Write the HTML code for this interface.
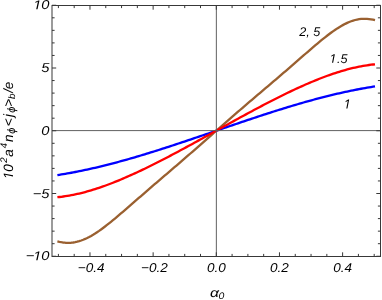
<!DOCTYPE html>
<html><head><meta charset="utf-8"><style>
html,body{margin:0;padding:0;background:#fff;}
svg{display:block}
svg{will-change:transform}
text{text-rendering:geometricPrecision;font-family:"Liberation Sans",sans-serif;font-style:italic;fill:#000}
</style></head><body>
<svg width="382" height="300" viewBox="0 0 382 300">
<rect width="382" height="300" fill="#fff"/>
<g fill="none" stroke-width="2.3" stroke-linejoin="round" stroke-linecap="butt">
<path d="M57.39,241.31 L59.38,241.80 L61.36,242.21 L63.35,242.52 L65.33,242.73 L67.32,242.84 L69.30,242.84 L71.29,242.73 L73.27,242.50 L75.26,242.17 L77.24,241.73 L79.23,241.18 L81.21,240.53 L83.20,239.78 L85.18,238.93 L87.17,238.00 L89.15,236.98 L91.14,235.89 L93.12,234.73 L95.11,233.50 L97.09,232.21 L99.08,230.86 L101.06,229.45 L103.05,228.00 L105.03,226.50 L107.02,224.96 L109.00,223.39 L110.99,221.79 L112.97,220.17 L114.96,218.52 L116.94,216.85 L118.93,215.17 L120.91,213.47 L122.90,211.77 L124.88,210.05 L126.87,208.34 L128.85,206.61 L130.84,204.89 L132.83,203.17 L134.81,201.44 L136.80,199.72 L138.78,197.99 L140.77,196.26 L142.75,194.53 L144.74,192.80 L146.72,191.08 L148.71,189.37 L150.69,187.65 L152.68,185.94 L154.66,184.24 L156.65,182.53 L158.63,180.83 L160.62,179.13 L162.60,177.43 L164.59,175.73 L166.57,174.03 L168.56,172.33 L170.54,170.63 L172.53,168.93 L174.51,167.23 L176.50,165.53 L178.48,163.82 L180.47,162.11 L182.45,160.40 L184.44,158.68 L186.42,156.96 L188.41,155.23 L190.39,153.50 L192.38,151.77 L194.36,150.04 L196.35,148.30 L198.33,146.55 L200.32,144.81 L202.30,143.06 L204.29,141.30 L206.27,139.55 L208.26,137.79 L210.24,136.03 L212.23,134.27 L214.21,132.51 L216.20,130.75 L218.19,129.01 L220.17,127.27 L222.16,125.54 L224.14,123.80 L226.13,122.07 L228.11,120.34 L230.10,118.61 L232.08,116.88 L234.07,115.15 L236.05,113.43 L238.04,111.71 L240.02,110.00 L242.01,108.29 L243.99,106.58 L245.98,104.88 L247.96,103.17 L249.95,101.48 L251.93,99.78 L253.92,98.09 L255.90,96.40 L257.89,94.71 L259.87,93.02 L261.86,91.34 L263.84,89.65 L265.83,87.97 L267.81,86.28 L269.80,84.59 L271.78,82.91 L273.77,81.22 L275.75,79.52 L277.74,77.83 L279.72,76.13 L281.71,74.42 L283.69,72.72 L285.68,71.01 L287.66,69.29 L289.65,67.57 L291.63,65.84 L293.62,64.11 L295.60,62.38 L297.59,60.66 L299.57,58.93 L301.56,57.20 L303.55,55.48 L305.53,53.75 L307.52,52.03 L309.50,50.31 L311.49,48.60 L313.47,46.89 L315.46,45.20 L317.44,43.53 L319.43,41.87 L321.41,40.23 L323.40,38.62 L325.38,37.04 L327.37,35.49 L329.35,33.97 L331.34,32.51 L333.32,31.08 L335.31,29.72 L337.29,28.41 L339.28,27.16 L341.26,25.98 L343.25,24.88 L345.23,23.84 L347.22,22.88 L349.20,22.02 L351.19,21.25 L353.17,20.57 L355.16,20.00 L357.14,19.54 L359.13,19.18 L361.11,18.94 L363.10,18.80 L365.08,18.78 L367.07,18.86 L369.05,19.05 L371.04,19.34 L373.02,19.72 L375.01,20.19" stroke="#9a6030"/>
<path d="M57.39,175.11 L59.38,174.80 L61.36,174.48 L63.35,174.15 L65.33,173.82 L67.32,173.47 L69.30,173.12 L71.29,172.75 L73.27,172.38 L75.26,172.00 L77.24,171.61 L79.23,171.22 L81.21,170.81 L83.20,170.40 L85.18,169.98 L87.17,169.55 L89.15,169.12 L91.14,168.67 L93.12,168.22 L95.11,167.77 L97.09,167.30 L99.08,166.83 L101.06,166.35 L103.05,165.87 L105.03,165.37 L107.02,164.87 L109.00,164.37 L110.99,163.86 L112.97,163.34 L114.96,162.81 L116.94,162.28 L118.93,161.75 L120.91,161.21 L122.90,160.66 L124.88,160.11 L126.87,159.55 L128.85,158.99 L130.84,158.42 L132.83,157.84 L134.81,157.27 L136.80,156.68 L138.78,156.09 L140.77,155.50 L142.75,154.90 L144.74,154.30 L146.72,153.70 L148.71,153.09 L150.69,152.47 L152.68,151.86 L154.66,151.23 L156.65,150.61 L158.63,149.98 L160.62,149.35 L162.60,148.71 L164.59,148.08 L166.57,147.43 L168.56,146.79 L170.54,146.14 L172.53,145.49 L174.51,144.84 L176.50,144.19 L178.48,143.53 L180.47,142.87 L182.45,142.21 L184.44,141.54 L186.42,140.88 L188.41,140.21 L190.39,139.54 L192.38,138.87 L194.36,138.20 L196.35,137.53 L198.33,136.85 L200.32,136.18 L202.30,135.50 L204.29,134.82 L206.27,134.15 L208.26,133.47 L210.24,132.79 L212.23,132.11 L214.21,131.43 L216.20,130.75 L218.19,130.07 L220.17,129.39 L222.16,128.71 L224.14,128.03 L226.13,127.35 L228.11,126.68 L230.10,126.00 L232.08,125.32 L234.07,124.65 L236.05,123.97 L238.04,123.30 L240.02,122.63 L242.01,121.96 L243.99,121.29 L245.98,120.62 L247.96,119.96 L249.95,119.29 L251.93,118.63 L253.92,117.97 L255.90,117.31 L257.89,116.66 L259.87,116.01 L261.86,115.36 L263.84,114.71 L265.83,114.07 L267.81,113.42 L269.80,112.79 L271.78,112.15 L273.77,111.52 L275.75,110.89 L277.74,110.27 L279.72,109.64 L281.71,109.03 L283.69,108.41 L285.68,107.80 L287.66,107.20 L289.65,106.60 L291.63,106.00 L293.62,105.41 L295.60,104.82 L297.59,104.23 L299.57,103.66 L301.56,103.08 L303.55,102.51 L305.53,101.95 L307.52,101.39 L309.50,100.84 L311.49,100.29 L313.47,99.75 L315.46,99.22 L317.44,98.69 L319.43,98.16 L321.41,97.64 L323.40,97.13 L325.38,96.63 L327.37,96.13 L329.35,95.63 L331.34,95.15 L333.32,94.67 L335.31,94.20 L337.29,93.73 L339.28,93.28 L341.26,92.83 L343.25,92.38 L345.23,91.95 L347.22,91.52 L349.20,91.10 L351.19,90.69 L353.17,90.28 L355.16,89.89 L357.14,89.50 L359.13,89.12 L361.11,88.75 L363.10,88.38 L365.08,88.03 L367.07,87.68 L369.05,87.35 L371.04,87.02 L373.02,86.70 L375.01,86.39" stroke="#0000ff"/>
<path d="M57.39,197.20 L59.38,197.00 L61.36,196.77 L63.35,196.51 L65.33,196.23 L67.32,195.92 L69.30,195.58 L71.29,195.22 L73.27,194.83 L75.26,194.42 L77.24,193.99 L79.23,193.53 L81.21,193.05 L83.20,192.54 L85.18,192.02 L87.17,191.47 L89.15,190.91 L91.14,190.32 L93.12,189.71 L95.11,189.09 L97.09,188.45 L99.08,187.79 L101.06,187.11 L103.05,186.42 L105.03,185.71 L107.02,184.98 L109.00,184.24 L110.99,183.48 L112.97,182.71 L114.96,181.92 L116.94,181.12 L118.93,180.31 L120.91,179.48 L122.90,178.64 L124.88,177.79 L126.87,176.93 L128.85,176.06 L130.84,175.17 L132.83,174.27 L134.81,173.37 L136.80,172.45 L138.78,171.52 L140.77,170.59 L142.75,169.64 L144.74,168.69 L146.72,167.73 L148.71,166.76 L150.69,165.78 L152.68,164.79 L154.66,163.80 L156.65,162.80 L158.63,161.79 L160.62,160.78 L162.60,159.76 L164.59,158.73 L166.57,157.70 L168.56,156.67 L170.54,155.62 L172.53,154.58 L174.51,153.53 L176.50,152.47 L178.48,151.41 L180.47,150.34 L182.45,149.28 L184.44,148.20 L186.42,147.13 L188.41,146.05 L190.39,144.97 L192.38,143.89 L194.36,142.80 L196.35,141.71 L198.33,140.62 L200.32,139.53 L202.30,138.44 L204.29,137.34 L206.27,136.24 L208.26,135.15 L210.24,134.05 L212.23,132.95 L214.21,131.85 L216.20,130.75 L218.19,129.65 L220.17,128.55 L222.16,127.45 L224.14,126.35 L226.13,125.26 L228.11,124.16 L230.10,123.06 L232.08,121.97 L234.07,120.88 L236.05,119.79 L238.04,118.70 L240.02,117.61 L242.01,116.53 L243.99,115.45 L245.98,114.37 L247.96,113.30 L249.95,112.22 L251.93,111.16 L253.92,110.09 L255.90,109.03 L257.89,107.97 L259.87,106.92 L261.86,105.88 L263.84,104.83 L265.83,103.80 L267.81,102.77 L269.80,101.74 L271.78,100.72 L273.77,99.71 L275.75,98.70 L277.74,97.70 L279.72,96.71 L281.71,95.72 L283.69,94.74 L285.68,93.77 L287.66,92.81 L289.65,91.86 L291.63,90.91 L293.62,89.98 L295.60,89.05 L297.59,88.13 L299.57,87.23 L301.56,86.33 L303.55,85.44 L305.53,84.57 L307.52,83.71 L309.50,82.86 L311.49,82.02 L313.47,81.19 L315.46,80.38 L317.44,79.58 L319.43,78.79 L321.41,78.02 L323.40,77.26 L325.38,76.52 L327.37,75.79 L329.35,75.08 L331.34,74.39 L333.32,73.71 L335.31,73.05 L337.29,72.41 L339.28,71.79 L341.26,71.18 L343.25,70.59 L345.23,70.03 L347.22,69.48 L349.20,68.96 L351.19,68.45 L353.17,67.97 L355.16,67.51 L357.14,67.08 L359.13,66.67 L361.11,66.28 L363.10,65.92 L365.08,65.58 L367.07,65.27 L369.05,64.99 L371.04,64.73 L373.02,64.50 L375.01,64.30" stroke="#ff0000"/>
</g>
<g stroke="#383838" stroke-width="1" fill="none">
<line x1="52.0" y1="130.6" x2="380.5" y2="130.6" stroke="#606060"/>
<line x1="216.35" y1="5.5" x2="216.35" y2="256.5" stroke="#606060"/>
<rect x="52.0" y="5.5" width="328.5" height="251.0"/>
<line x1="58.40" y1="256.5" x2="58.40" y2="253.9"/>
<line x1="58.40" y1="5.5" x2="58.40" y2="8.1"/>
<line x1="74.19" y1="256.5" x2="74.19" y2="253.9"/>
<line x1="74.19" y1="5.5" x2="74.19" y2="8.1"/>
<line x1="89.98" y1="256.5" x2="89.98" y2="252.3"/>
<line x1="89.98" y1="5.5" x2="89.98" y2="9.7"/>
<line x1="105.77" y1="256.5" x2="105.77" y2="253.9"/>
<line x1="105.77" y1="5.5" x2="105.77" y2="8.1"/>
<line x1="121.56" y1="256.5" x2="121.56" y2="253.9"/>
<line x1="121.56" y1="5.5" x2="121.56" y2="8.1"/>
<line x1="137.35" y1="256.5" x2="137.35" y2="253.9"/>
<line x1="137.35" y1="5.5" x2="137.35" y2="8.1"/>
<line x1="153.14" y1="256.5" x2="153.14" y2="252.3"/>
<line x1="153.14" y1="5.5" x2="153.14" y2="9.7"/>
<line x1="168.93" y1="256.5" x2="168.93" y2="253.9"/>
<line x1="168.93" y1="5.5" x2="168.93" y2="8.1"/>
<line x1="184.72" y1="256.5" x2="184.72" y2="253.9"/>
<line x1="184.72" y1="5.5" x2="184.72" y2="8.1"/>
<line x1="200.51" y1="256.5" x2="200.51" y2="253.9"/>
<line x1="200.51" y1="5.5" x2="200.51" y2="8.1"/>
<line x1="216.30" y1="256.5" x2="216.30" y2="252.3"/>
<line x1="216.30" y1="5.5" x2="216.30" y2="9.7"/>
<line x1="232.09" y1="256.5" x2="232.09" y2="253.9"/>
<line x1="232.09" y1="5.5" x2="232.09" y2="8.1"/>
<line x1="247.88" y1="256.5" x2="247.88" y2="253.9"/>
<line x1="247.88" y1="5.5" x2="247.88" y2="8.1"/>
<line x1="263.67" y1="256.5" x2="263.67" y2="253.9"/>
<line x1="263.67" y1="5.5" x2="263.67" y2="8.1"/>
<line x1="279.46" y1="256.5" x2="279.46" y2="252.3"/>
<line x1="279.46" y1="5.5" x2="279.46" y2="9.7"/>
<line x1="295.25" y1="256.5" x2="295.25" y2="253.9"/>
<line x1="295.25" y1="5.5" x2="295.25" y2="8.1"/>
<line x1="311.04" y1="256.5" x2="311.04" y2="253.9"/>
<line x1="311.04" y1="5.5" x2="311.04" y2="8.1"/>
<line x1="326.83" y1="256.5" x2="326.83" y2="253.9"/>
<line x1="326.83" y1="5.5" x2="326.83" y2="8.1"/>
<line x1="342.62" y1="256.5" x2="342.62" y2="252.3"/>
<line x1="342.62" y1="5.5" x2="342.62" y2="9.7"/>
<line x1="358.41" y1="256.5" x2="358.41" y2="253.9"/>
<line x1="358.41" y1="5.5" x2="358.41" y2="8.1"/>
<line x1="374.20" y1="256.5" x2="374.20" y2="253.9"/>
<line x1="374.20" y1="5.5" x2="374.20" y2="8.1"/>
<line x1="52.0" y1="256.25" x2="56.2" y2="256.25"/>
<line x1="380.5" y1="256.25" x2="376.3" y2="256.25"/>
<line x1="52.0" y1="243.70" x2="54.6" y2="243.70"/>
<line x1="380.5" y1="243.70" x2="377.9" y2="243.70"/>
<line x1="52.0" y1="231.15" x2="54.6" y2="231.15"/>
<line x1="380.5" y1="231.15" x2="377.9" y2="231.15"/>
<line x1="52.0" y1="218.60" x2="54.6" y2="218.60"/>
<line x1="380.5" y1="218.60" x2="377.9" y2="218.60"/>
<line x1="52.0" y1="206.05" x2="54.6" y2="206.05"/>
<line x1="380.5" y1="206.05" x2="377.9" y2="206.05"/>
<line x1="52.0" y1="193.50" x2="56.2" y2="193.50"/>
<line x1="380.5" y1="193.50" x2="376.3" y2="193.50"/>
<line x1="52.0" y1="180.95" x2="54.6" y2="180.95"/>
<line x1="380.5" y1="180.95" x2="377.9" y2="180.95"/>
<line x1="52.0" y1="168.40" x2="54.6" y2="168.40"/>
<line x1="380.5" y1="168.40" x2="377.9" y2="168.40"/>
<line x1="52.0" y1="155.85" x2="54.6" y2="155.85"/>
<line x1="380.5" y1="155.85" x2="377.9" y2="155.85"/>
<line x1="52.0" y1="143.30" x2="54.6" y2="143.30"/>
<line x1="380.5" y1="143.30" x2="377.9" y2="143.30"/>
<line x1="52.0" y1="130.75" x2="56.2" y2="130.75"/>
<line x1="380.5" y1="130.75" x2="376.3" y2="130.75"/>
<line x1="52.0" y1="118.20" x2="54.6" y2="118.20"/>
<line x1="380.5" y1="118.20" x2="377.9" y2="118.20"/>
<line x1="52.0" y1="105.65" x2="54.6" y2="105.65"/>
<line x1="380.5" y1="105.65" x2="377.9" y2="105.65"/>
<line x1="52.0" y1="93.10" x2="54.6" y2="93.10"/>
<line x1="380.5" y1="93.10" x2="377.9" y2="93.10"/>
<line x1="52.0" y1="80.55" x2="54.6" y2="80.55"/>
<line x1="380.5" y1="80.55" x2="377.9" y2="80.55"/>
<line x1="52.0" y1="68.00" x2="56.2" y2="68.00"/>
<line x1="380.5" y1="68.00" x2="376.3" y2="68.00"/>
<line x1="52.0" y1="55.45" x2="54.6" y2="55.45"/>
<line x1="380.5" y1="55.45" x2="377.9" y2="55.45"/>
<line x1="52.0" y1="42.90" x2="54.6" y2="42.90"/>
<line x1="380.5" y1="42.90" x2="377.9" y2="42.90"/>
<line x1="52.0" y1="30.35" x2="54.6" y2="30.35"/>
<line x1="380.5" y1="30.35" x2="377.9" y2="30.35"/>
<line x1="52.0" y1="17.80" x2="54.6" y2="17.80"/>
<line x1="380.5" y1="17.80" x2="377.9" y2="17.80"/>
<line x1="52.0" y1="5.25" x2="56.2" y2="5.25"/>
<line x1="380.5" y1="5.25" x2="376.3" y2="5.25"/>
</g>
<g class="t">
<text transform="translate(91.18,272.4) scale(1.05,1)" text-anchor="middle" font-size="12.9">−0.4</text>
<text transform="translate(154.34,272.4) scale(1.05,1)" text-anchor="middle" font-size="12.9">−0.2</text>
<text transform="translate(216.30,272.4) scale(1.05,1)" text-anchor="middle" font-size="12.9">0.0</text>
<text transform="translate(279.46,272.4) scale(1.05,1)" text-anchor="middle" font-size="12.9">0.2</text>
<text transform="translate(342.62,272.4) scale(1.05,1)" text-anchor="middle" font-size="12.9">0.4</text>
<text transform="translate(49.4,260.30) scale(1.14,1)" text-anchor="end" font-size="12.9">0</text>
<path transform="translate(33.25,260.30) scale(0.007181,-0.006299)" d="M412 0L650 1223L289 1000L324 1180L701 1409H867L593 0Z" fill="#000"/>
<text transform="translate(34.4,260.30) scale(1.14,1)" text-anchor="end" font-size="12.9">−</text>
<text transform="translate(49.4,197.55) scale(1.14,1)" text-anchor="end" font-size="12.9">−5</text>
<text transform="translate(49.4,134.80) scale(1.14,1)" text-anchor="end" font-size="12.9">0</text>
<text transform="translate(49.4,72.05) scale(1.14,1)" text-anchor="end" font-size="12.9">5</text>
<text transform="translate(49.4,9.30) scale(1.14,1)" text-anchor="end" font-size="12.9">0</text>
<path transform="translate(33.25,9.30) scale(0.007181,-0.006299)" d="M412 0L650 1223L289 1000L324 1180L701 1409H867L593 0Z" fill="#000"/>
<text x="309.8" y="35.9" text-anchor="middle" font-size="12.6">2, 5</text>
<path transform="translate(329.50,62.80) scale(0.006152,-0.006152)" d="M412 0L650 1223L289 1000L324 1180L701 1409H867L593 0Z" fill="#000"/><text x="337.0" y="62.8" font-size="12.6">.5</text>
<path transform="translate(343.70,108.50) scale(0.006299,-0.006299)" d="M412 0L650 1223L289 1000L324 1180L701 1409H867L593 0Z" fill="#000"/>
<text transform="translate(210.1,297.1) scale(1.25,1)" font-size="12.6">α</text><text transform="translate(218.4,299.4) scale(1.1,1)" font-size="9.5">0</text>
<g transform="translate(13.0,180.0) rotate(-90)"><path transform="translate(0.88,0.00) scale(0.006592,-0.006592)" d="M412 0L650 1223L289 1000L324 1180L701 1409H867L593 0Z" fill="#000"/><text transform="translate(8.16,0) scale(1.0,1)" font-size="13.5">0</text><text transform="translate(17.33,-5.9) scale(1.0,1)" font-size="9.6">2</text><text transform="translate(23.13,0) scale(1.0,1)" font-size="13.5">a</text><text transform="translate(31.68,-5.9) scale(1.0,1)" font-size="9.6">4</text><text transform="translate(37.94,0) scale(1.0,1)" font-size="13.5">n</text><text transform="translate(46.24,2.3) scale(1.0,1)" font-size="11.0">ϕ</text><text transform="translate(53.76,0) scale(1.0,1)" font-size="13.5">&lt;</text><text transform="translate(63.10,0) scale(1.0,1)" font-size="13.5">j</text><text transform="translate(67.14,2.3) scale(1.0,1)" font-size="11.0">ϕ</text><text transform="translate(73.36,0) scale(1.0,1)" font-size="13.5">&gt;</text><text transform="translate(81.11,1.9) scale(1.0,1)" font-size="9.6">b</text><text transform="translate(87.13,0) scale(1.0,1)" font-size="13.5">/</text><text transform="translate(90.87,0) scale(1.0,1)" font-size="13.5">e</text></g>
</g>
</svg>
</body></html>
